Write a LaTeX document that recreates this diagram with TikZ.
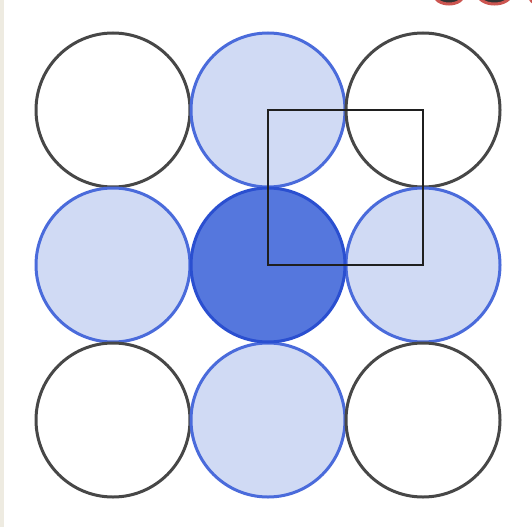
\documentclass[tikz,border=0pt]{standalone}
\begin{document}
\begin{tikzpicture}[x=1pt,y=-1pt,
  plain/.style={circle,minimum size=154pt,inner sep=0pt,draw=black!72,line width=3pt,fill=white},
  lite/.style={circle,minimum size=154pt,inner sep=0pt,draw=blue3,line width=3pt,fill=lightfill},
  dark/.style={circle,minimum size=154pt,inner sep=0pt,draw=blue4,line width=3pt,fill=darkfill},
  sq/.style={draw=black!88,line width=2.8pt},
  redblob/.style={fill=black!80,draw=redc,line width=3pt}]
\definecolor{lightfill}{HTML}{D0DAF4}
\definecolor{darkfill}{HTML}{5577DD}
\definecolor{blue3}{HTML}{4A6BDB}
\definecolor{blue4}{HTML}{2A4FD0}
\definecolor{beige}{HTML}{EEEBE1}
\definecolor{redc}{HTML}{CC5550}
\useasboundingbox (0,0) rectangle (532,527);
\clip (0,0) rectangle (532,527);
\fill[white] (0,0) rectangle (532,527);
\fill[beige] (0,0) rectangle (4,527);
% red shapes at top edge
\draw[redblob] (449,-6) ellipse [x radius=15, y radius=10];
\draw[redblob] (494.5,-6) ellipse [x radius=16.5, y radius=10];
\draw[redblob] (538,-6) ellipse [x radius=9, y radius=10];
% circles
\node[plain] (c11) at (113,110) {};
\node[lite]  (c12) at (268,110) {};
\node[plain] (c13) at (423,110) {};
\node[lite]  (c21) at (113,265) {};
\node[lite]  (c23) at (423,265) {};
\node[plain] (c31) at (113,420) {};
\node[lite]  (c32) at (268,420) {};
\node[plain] (c33) at (423,420) {};
\node[dark]  (c22) at (268,265) {};
% square joining centres
\draw[sq] (c12.center) -- (c13.center) -- (c23.center) -- (c22.center) -- cycle;
\end{tikzpicture}
\end{document}
